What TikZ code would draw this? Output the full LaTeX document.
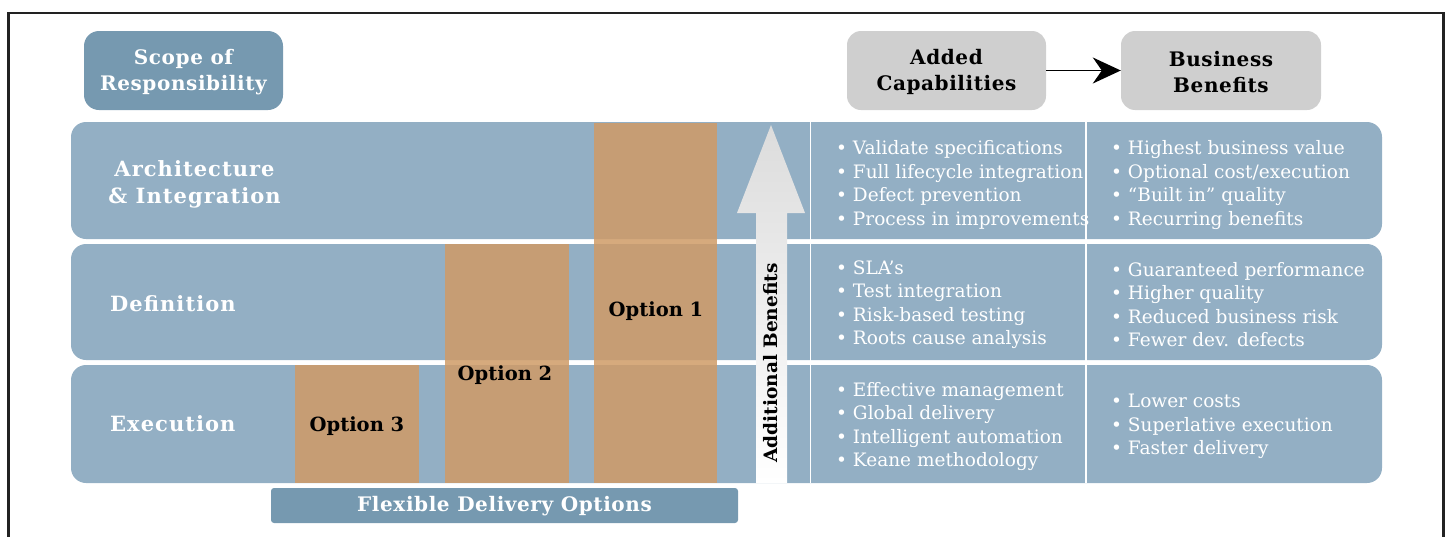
\documentclass[tikz,border=0pt]{standalone}
\usepackage{fontspec}
\setmainfont{DejaVu Serif}
\newfontfamily\headfont[LetterSpace=3]{DejaVu Serif}
\newfontfamily\rowfont[LetterSpace=5]{DejaVu Serif}
\usetikzlibrary{arrows.meta}
\definecolor{bandc}{RGB}{147,175,196}
\definecolor{darkbandc}{RGB}{118,153,176}
\definecolor{optc}{RGB}{207,155,102}
\definecolor{hdrc}{RGB}{207,207,207}
\definecolor{framec}{RGB}{34,34,34}
\definecolor{arrowtopc}{RGB}{220,220,220}
\begin{document}
\begin{tikzpicture}[x=1pt,y=-1pt,
  bandbox/.style={fill=bandc, rounded corners=15pt, minimum width=1311pt, inner sep=0pt, draw=none},
  darkbox/.style={fill=darkbandc, inner sep=0pt, draw=none, text=white, font=\headfont\bfseries\fontsize{20}{26}\selectfont, align=center},
  hdrbox/.style={fill=hdrc, rounded corners=14pt, minimum width=199pt, minimum height=79pt, inner sep=0pt, text=black, font=\headfont\bfseries\fontsize{20}{26}\selectfont, align=center},
  optbox/.style={fill=optc, fill opacity=0.85, draw=none, inner sep=0pt},
  optlabel/.style={font=\bfseries\fontsize{19.5}{22}\selectfont, text=black, inner sep=0pt},
  rowlabel/.style={font=\rowfont\bfseries\fontsize{21}{27}\selectfont, text=white, inner sep=0pt, align=center},
  bullets/.style={font=\fontsize{18.5}{23.5}\selectfont, text=white, inner sep=0pt, align=left, anchor=west},
  divider/.style={white, line width=1.5pt}
]
\useasboundingbox (0,0) rectangle (1448,536);
\clip (0,0) rectangle (1448,536);
% frame
\draw[framec, line width=2.5pt] (8.5,13) rectangle (1443.5,570);

% header boxes
\node[darkbox, rounded corners=15pt, minimum width=199pt, minimum height=79pt] (scope) at (183.5,70.5) {};
\node[darkbox, fill=none] (scopet) at (183.5,72) {Scope of\\Responsibility};
\node[hdrbox] (added) at (946.5,70.5) {};
\node[font=\headfont\bfseries\fontsize{20}{26}\selectfont, align=center, inner sep=0pt] (addedt) at (946.5,72) {Added\\Capabilities};
\node[hdrbox, minimum width=200pt] (business) at (1221,70.5) {};
\node[font=\headfont\bfseries\fontsize{20}{26}\selectfont, align=center, inner sep=0pt] (businesst) at (1221,72) {Business\\Benefits};
\draw[black, line width=1.8pt, -{Stealth[length=28pt,width=26pt,inset=9pt]}] (added.east) -- (business.west);

% bands
\node[bandbox, minimum height=117pt] (r1) at (726.5,180.5) {};
\node[bandbox, minimum height=116pt] (r2) at (726.5,302) {};
\node[bandbox, minimum height=118pt] (r3) at (726.5,424) {};

% dividers
\draw[divider] (810.5,122) -- (810.5,483);
\draw[divider] (1086,122) -- (1086,483);

% row labels
\node[rowlabel] (la) at (194.5,184.5) {Architecture\\\& Integration};
\node[rowlabel, anchor=west] (ld) at (110,304) {Definition};
\node[rowlabel, anchor=west] (le) at (110,424) {Execution};

% option boxes
\node[optbox, minimum width=124pt, minimum height=118pt] (o3) at (357,424) {};
\node[optbox, minimum width=124pt, minimum height=239pt] (o2) at (507,363.5) {};
\node[optbox, minimum width=123pt, minimum height=360pt] (o1) at (655.5,303) {};
\node[optlabel] (t3) at (357,426) {Option 3};
\node[optlabel] (t2) at (505,375) {Option 2};
\node[optlabel] (t1) at (656,311) {Option 1};

% flexible delivery
\node[darkbox, rounded corners=3pt, minimum width=467pt, minimum height=35pt] (flex) at (504.5,505.5) {};
\node[darkbox, fill=none] (flext) at (504.5,506.5) {Flexible Delivery Options};

% additional benefits arrow
\shade[top color=arrowtopc, bottom color=white] (756,483) -- (756,213) -- (737,213) -- (771,125) -- (805,213) -- (787,213) -- (787,483) -- cycle;
\node[font=\bfseries\fontsize{18.5}{20}\selectfont, rotate=90, inner sep=0pt] (ab) at (771,363) {Additional Benefits};

% bullet cells
\node[bullets] (c11) at (836,185) {\textbullet\ Validate specifications\\\textbullet\ Full lifecycle integration\\\textbullet\ Defect prevention\\\textbullet\ Process in improvements};
\node[bullets] (c12) at (1111,185) {\textbullet\ Highest business value\\\textbullet\ Optional cost/execution\\\textbullet\ “Built in” quality\\\textbullet\ Recurring benefits};
\node[bullets] (c21) at (836,304.5) {\textbullet\ SLA’s\\\textbullet\ Test integration\\\textbullet\ Risk-based testing\\\textbullet\ Roots cause analysis};
\node[bullets] (c22) at (1111,304.5) {\textbullet\ Guaranteed performance\\\textbullet\ Higher quality\\\textbullet\ Reduced business risk\\\textbullet\ Fewer dev. defects};
\node[bullets] (c31) at (836,426.5) {\textbullet\ Effective management\\\textbullet\ Global delivery\\\textbullet\ Intelligent automation\\\textbullet\ Keane methodology};
\node[bullets] (c32) at (1111,426.5) {\textbullet\ Lower costs\\\textbullet\ Superlative execution\\\textbullet\ Faster delivery};
\end{tikzpicture}
\end{document}
